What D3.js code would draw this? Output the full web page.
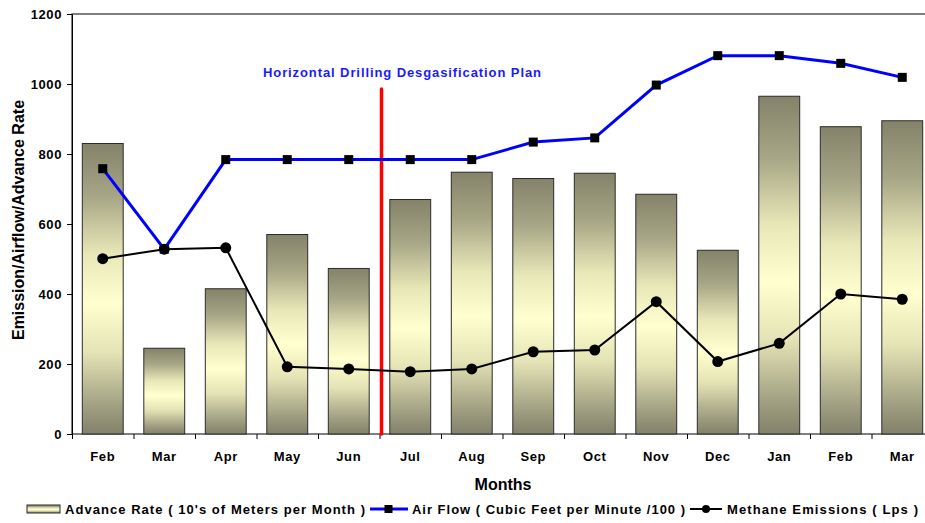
<!DOCTYPE html>
<html>
<head>
<meta charset="utf-8">
<script src="https://cdn.jsdelivr.net/npm/d3@7"></script>
<style>
  html, body { margin: 0; padding: 0; background: #fff; }
  svg { display: block; font-family: "Liberation Sans", Arial, sans-serif; }
</style>
</head>
<body>
<svg id="chart" width="925" height="523"></svg>
<script>
// Monthly figures for the mine section
const months = ["Feb", "Mar", "Apr", "May", "Jun", "Jul", "Aug", "Sep", "Oct", "Nov", "Dec", "Jan", "Feb", "Mar"];
const advanceRate = [830, 245, 415, 570, 473, 670, 748, 730, 745, 685, 525, 965, 878, 895];
const airFlow = [758, 528, 784, 784, 784, 784, 784, 834, 846, 997, 1081, 1081, 1059, 1019];
const methane = [501, 528, 532, 192, 186, 178, 186, 235, 240, 378, 207, 259, 400, 385];
const yTicks = [0, 200, 400, 600, 800, 1000, 1200];
const planLabel = "Horizontal Drilling Desgasification Plan";
const planTop = 986; // height reached by the plan marker
const planAfterIndex = 4; // marker sits between Jun and Jul

const svg = d3.select("#chart");
const margin = { left: 72, top: 14 };
const plotW = 861, plotH = 420;
const g = svg.append("g").attr("transform", `translate(${margin.left},${margin.top})`);

const keys = months.map((m, i) => i);
const x = d3.scaleBand().domain(keys).range([0, plotW]).paddingInner(0.335).paddingOuter(0.1675);
const xc = i => x(i) + x.bandwidth() / 2;
const y = d3.scaleLinear().domain([0, 1200]).range([plotH, 0]);

// Bar fill: dark olive at the ends, pale yellow in the middle
const defs = svg.append("defs");
const grad = defs.append("linearGradient").attr("id", "barGrad")
  .attr("x1", 0).attr("y1", 0).attr("x2", 0).attr("y2", 1);
[[0, "#84836a"], [0.18, "#a6a585"], [0.38, "#e8e7b8"], [0.55, "#ffffcf"], [0.72, "#e4e3b5"], [0.9, "#a2a183"], [1, "#82816a"]]
  .forEach(([o, c]) => grad.append("stop").attr("offset", o).attr("stop-color", c));

// Plot frame
g.append("rect").attr("x", 0).attr("y", 0).attr("width", plotW).attr("height", plotH)
  .attr("fill", "none").attr("stroke", "#000").attr("stroke-width", 1);

// Bars
g.selectAll("rect.bar").data(advanceRate).join("rect")
  .attr("class", "bar")
  .attr("x", (d, i) => x(i))
  .attr("y", d => y(d))
  .attr("width", x.bandwidth())
  .attr("height", d => y(0) - y(d))
  .attr("fill", "url(#barGrad)")
  .attr("stroke", "#2b2b2b").attr("stroke-width", 1);

// Axes
const yAxis = d3.axisLeft(y).tickValues(yTicks).tickSize(5).tickSizeOuter(0).tickFormat(d3.format("d"));
const ya = g.append("g").call(yAxis);
ya.selectAll("text").attr("font-size", 13).attr("font-weight", "bold").attr("fill", "#000")
  .attr("letter-spacing", 0.6).attr("x", -10);
ya.select(".domain").attr("stroke", "#000");

const xAxis = d3.axisBottom(d3.scaleLinear().domain([0, months.length]).range([0, plotW]))
  .tickValues(d3.range(0, months.length + 1)).tickSize(5).tickFormat("");
const xa = g.append("g").attr("transform", `translate(0,${plotH})`).call(xAxis);
xa.select(".domain").remove();

g.append("g").selectAll("text").data(months).join("text")
  .attr("x", (d, i) => xc(i))
  .attr("y", plotH + 27)
  .attr("text-anchor", "middle")
  .attr("font-size", 13).attr("font-weight", "bold").attr("letter-spacing", 0.6)
  .text(d => d);

// Plan marker
const planX = x(planAfterIndex) + x.bandwidth() + (x.step() - x.bandwidth()) / 2 + 2;
g.append("line")
  .attr("x1", planX).attr("x2", planX)
  .attr("y1", y(planTop)).attr("y2", y(0))
  .attr("stroke", "#ff0000").attr("stroke-width", 3.5).attr("stroke-linecap", "round");
g.append("text")
  .attr("x", 263 - margin.left).attr("y", y(planTop) - 12)
  .attr("font-size", 13).attr("font-weight", "bold").attr("fill", "#1a1aff")
  .attr("textLength", 278).attr("lengthAdjust", "spacing")
  .text(planLabel);

// Air flow line
const line = d3.line().x((d, i) => xc(i)).y(d => y(d));
g.append("path").datum(airFlow).attr("d", line)
  .attr("fill", "none").attr("stroke", "#0000ff").attr("stroke-width", 3);
g.selectAll("rect.sq").data(airFlow).join("rect")
  .attr("class", "sq")
  .attr("x", (d, i) => xc(i) - 4.5).attr("y", d => y(d) - 4.5)
  .attr("width", 9).attr("height", 9).attr("fill", "#000");

// Methane line
g.append("path").datum(methane).attr("d", line)
  .attr("fill", "none").attr("stroke", "#000").attr("stroke-width", 2);
g.selectAll("circle.dot").data(methane).join("circle")
  .attr("class", "dot")
  .attr("cx", (d, i) => xc(i)).attr("cy", d => y(d)).attr("r", 5.5).attr("fill", "#000");

// Axis titles
svg.append("text")
  .attr("transform", `translate(24,${margin.top + 206}) rotate(-90)`)
  .attr("text-anchor", "middle")
  .attr("font-size", 16).attr("font-weight", "bold")
  .text("Emission/Airflow/Advance Rate");
svg.append("text")
  .attr("x", 503).attr("y", 490)
  .attr("text-anchor", "middle")
  .attr("font-size", 16).attr("font-weight", "bold")
  .text("Months");

// Legend
const lg = svg.append("g").attr("font-size", 13).attr("font-weight", "bold");
lg.append("rect").attr("x", 27).attr("y", 505).attr("width", 33).attr("height", 8)
  .attr("fill", "url(#barGrad)").attr("stroke", "#2b2b2b");
lg.append("text").attr("x", 65).attr("y", 514)
  .attr("textLength", 300).attr("lengthAdjust", "spacing")
  .text("Advance Rate ( 10's of Meters per Month )");
lg.append("line").attr("x1", 370).attr("x2", 408).attr("y1", 509).attr("y2", 509)
  .attr("stroke", "#0000ff").attr("stroke-width", 3);
lg.append("rect").attr("x", 384.5).attr("y", 505).attr("width", 8).attr("height", 8).attr("fill", "#000");
lg.append("text").attr("x", 412).attr("y", 514)
  .attr("textLength", 273).attr("lengthAdjust", "spacing")
  .text("Air Flow ( Cubic Feet per Minute /100 )");
lg.append("line").attr("x1", 690).attr("x2", 722).attr("y1", 509).attr("y2", 509)
  .attr("stroke", "#000").attr("stroke-width", 2);
lg.append("circle").attr("cx", 706).attr("cy", 509).attr("r", 4).attr("fill", "#000");
lg.append("text").attr("x", 727).attr("y", 514)
  .attr("textLength", 191).attr("lengthAdjust", "spacing")
  .text("Methane Emissions ( Lps )");
</script>
</body>
</html>
